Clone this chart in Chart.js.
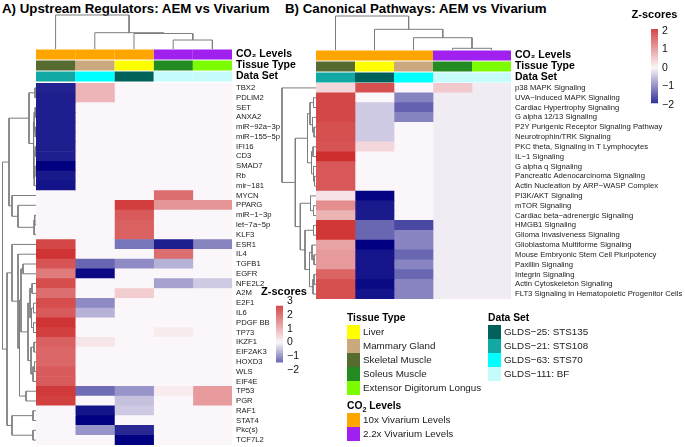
<!DOCTYPE html>
<html>
<head>
<meta charset="utf-8">
<script src="https://cdn.jsdelivr.net/npm/chart.js@4.4.1/dist/chart.umd.min.js"></script>
<style>
    body { margin: 0; width: 685px; height: 447px; position: relative; background: #fff; overflow: hidden;
           font-family: "Liberation Sans", Arial, sans-serif; color: #000; }
    canvas { position: absolute; }
    .title { position: absolute; font-weight: bold; font-size: 13.3px; line-height: 15px; white-space: nowrap; }
    .lgHead { position: absolute; font-weight: bold; font-size: 10.3px; line-height: 14px; white-space: nowrap; }
    .lgItem { position: absolute; font-size: 9.8px; line-height: 14px; white-space: nowrap; color: #222; }
    .sw { position: absolute; width: 13px; height: 14px; }
</style>
</head>
<body>
<div class="title" style="left:2px;top:1px">A) Upstream Regulators: AEM vs Vivarium</div>
<div class="title" style="left:285px;top:1px">B) Canonical Pathways: AEM vs Vivarium</div>
<script>
// annotation categories
const co2Levels = ['10x Vivarium Levels', '2.2x Vivarium Levels'];
const tissueTypes = ['Liver', 'Mammary Gland', 'Skeletal Muscle', 'Soleus Muscle', 'Extensor Digitorum Longus'];
const dataSets = ['GLDS\u221225: STS135', 'GLDS\u221221: STS108', 'GLDS\u221263: STS70', 'GLDS\u2212111: BF'];
const co2Colors = ['#FFA500', '#A020F0'];
const tissueColors = ['#FFFF00', '#CBA97E', '#556B2F', '#228B22', '#7CFC00'];
const dataSetColors = ['#00605A', '#12A9A4', '#00FFFF', '#C6FBFB'];

// column annotations (index into the lists above)
const colCo2A = [0, 0, 0, 1, 1];
const colTissueA = [2, 1, 0, 3, 4];
const colDataSetA = [1, 2, 0, 3, 3];
const colCo2B = [0, 0, 0, 1, 1];
const colTissueB = [2, 0, 1, 3, 4];
const colDataSetB = [1, 0, 2, 3, 3];

// A) upstream regulators
const regulators = ['TBX2', 'PDLIM2', 'SET', 'ANXA2', 'miR\u221292a\u22123p', 'miR\u2212155\u22125p', 'IFI16', 'CD3', 'SMAD7', 'Rb',
    'mir\u2212181', 'MYCN', 'PPARG', 'miR\u22121\u22123p', 'let\u22127a\u22125p', 'KLF3', 'ESR1', 'IL4', 'TGFB1', 'EGFR', 'NFE2L2',
    'A2M', 'E2F1', 'IL6', 'PDGF BB', 'TP73', 'IKZF1', 'EIF2AK3', 'HOXD3', 'WLS', 'EIF4E', 'TP53', 'PGR', 'RAF1', 'STAT4',
    'Pkc(s)', 'TCF7L2'];
const regSkeletal = [-2.15, -2.2, -2.2, -2.2, -2.2, -2.2, -2.2, -2.2, -2.5, -2.25, -2.3, 0, 0, 0, 0, 0, 2.7, 3.0, 2.5, 1.9, 2.6,
    2.1, 2.6, 2.4, 3.0, 2.8, 2.3, 2.2, 2.2, 2.4, 2.4, 2.9, 2.8, 0, 0, 0, 0];
const regMammary = [1.0, 1.0, 0, 0, 0, 0, 0, 0, 0, 0, 0, 0, 0, 0, 0, 0, 0, 0, -1.45, -2.4, 0,
    0, -1.1, -0.7, 0, 0, 0.25, 0, 0, 0, 0, -1.4, 0, -2.3, -2.5, -1.0, 0];
const regLiver = [0, 0, 0, 0, 0, 0, 0, 0, 0, 0, 0, 0, 2.85, 2.4, 2.3, 2.3, -1.3, 0, -1.1, 0, 0,
    0.65, 0, 0, 0, 0, 0, 0, 0, 0, 0, -1.0, -0.55, -0.45, 0, -2.1, -2.5];
const regSoleus = [0, 0, 0, 0, 0, 0, 0, 0, 0, 0, 0, 2.1, 1.5, 0, 0, 0, -2.2, 2.1, -0.7, 0, -0.85,
    0, 0, 0, 0, 0.15, 0, 0, 0, 0, 0, 0.15, 0, 0, 0, 0, 0];
const regEDL = [0, 0, 0, 0, 0, 0, 0, 0, 0, 0, 0, 0, 1.5, 0, 0, 0, -1.15, 0, 0, 0, -0.45,
    0, 0, 0, 0, 0, 0, 0, 0, 0, 0, 1.4, 1.4, 0, 0, 0, 0];

// B) canonical pathways
const pathways = ['p38 MAPK Signaling', 'UVA\u2212Induced MAPK Signaling', 'Cardiac Hypertrophy Signaling',
    'G alpha 12/13 Signaling', 'P2Y Purigenic Receptor Signaling Pathway', 'Neurotrophin/TRK Signaling',
    'PKC theta, Signaling in T Lymphocytes', 'IL\u22121 Signaling', 'G alpha q Signaling',
    'Pancreatic Adenocarcinoma Signaling', 'Actin Nucleation by ARP\u2212WASP Complex', 'PI3K/AKT Signaling',
    'mTOR Signaling', 'Cardiac beta\u2212adrenergic Signaling', 'HMGB1 Signaling', 'Glioma Invasiveness Signaling',
    'Glioblastoma Multiforme Signaling', 'Mouse Embryonic Stem Cell Pluripotency', 'Paxillin Signaling',
    'Integrin Signaling', 'Actin Cytoskeleton Signaling', 'FLT3 Signaling in Hematopoietic Progenitor Cells'];
const pathSkeletal = [0.37, 2.1, 2.1, 2.1, 2.0, 2.0, 1.95, 2.4, 1.9, 1.9, 1.9, 0.25, 1.25, 0.8, 2.3, 2.3, 1.0, 1.1, 1.1, 1.75, 2.0, 2.0];
const pathLiver = [2.0, 0, -0.42, -0.42, -0.42, -0.42, 0.37, 0, 0, 0, 0, -2.35, -2.15, -2.15, -1.4, -1.4, -2.4, -2.2, -2.2, -2.2, -2.3, -2.2];
const pathMammary = [0, -1.12, -1.45, -1.12, 0, 0, 0, 0, 0, 0, 0, 0, 0, 0, -1.7, -1.1, -1.1, -1.4, -1.1, -1.4, -1.1, -1.1];
const pathSoleus = [0.55, -0.1, -0.1, -0.1, -0.1, -0.1, -0.1, -0.1, -0.1, -0.1, -0.1, -0.1, -0.1, -0.1, -0.1, -0.1, -0.1, -0.1, -0.1, -0.1, -0.1, -0.1];
const pathEDL = [-0.1, -0.1, -0.1, -0.1, -0.1, -0.1, -0.1, -0.1, -0.1, -0.1, -0.1, -0.1, -0.1, -0.1, -0.1, -0.1, -0.1, -0.1, -0.1, -0.1, -0.1, -0.1];

// colour scale limits
const zRangeA = [-2.5, 3.2];
const zRangeB = [-2.4, 2.5];

// dendrograms: [mergeHeight, left, right], leaves are row / column indices
const rowTreeA = [33.5,
    [27,
        [7, [1, 0, 1], [2.6, [1.8, [0.8, 2, 3], [0.8, 4, 5]], [2.2, [0.8, 6, 7], [1.8, [1.2, 8, 9], 10]]]],
        [24, 11, [18, 12, [2, [1.3, 13, 14], 15]]]],
    [29,
        [24, 16, [18, 17, [16.5,
            [15, [13, 18, 19], [8, [6, [4, 20, 21], [4.5, [2.5, 22, 23], [2.5, 24, 25]]], [5, [2, 26, 27], [3, [1.5, 28, 29], 30]]]],
            [10, 31, 32]]]],
        [24, [3, 33, 34], [3, 35, 36]]]];
const rowTreeB = [34, 0,
    [20.7,
        [8.5, [6, [2.5, 1, 2], [3.5, 3, [2, 4, 5]]], [4.5, [3, 6, 7], [2.5, 8, [1.5, 9, 10]]]],
        [15.7, [5.5, 11, [2.5, 12, 13]], [11, [2.5, 14, 15], [6.5, [4, 16, [2, 17, 18]], [3, [2, 19, 20], 21]]]]]];
const colTreeA = [34, 0, [16.3, 1, [15.5, 2, [9, 3, 4]]]];
const colTreeB = [34, 0, [20.7, 1, [12.3, 2, [1.7, 3, 4]]]];

Chart.defaults.font.family = '"Liberation Sans", Arial, sans-serif';
Chart.defaults.color = '#222';

const NAVY = [0, 0, 128], MID = [251, 246, 249], RED = [205, 38, 38];

function mix(c1, c2, t) {
    return 'rgb(' + c1.map((v, i) => Math.round(v + (c2[i] - v) * t)).join(',') + ')';
}
function heatColor(v, range) {
    if (v < 0) return mix(MID, NAVY, Math.min(v / range[0], 1));
    return mix(MID, RED, Math.min(v / range[1], 1));
}
function rgb(c) { return 'rgb(' + c.join(',') + ')'; }

function makeCanvas(left, top, w, h) {
    const c = document.createElement('canvas');
    c.width = w; c.height = h;
    c.style.left = left + 'px'; c.style.top = top + 'px';
    document.body.appendChild(c);
    return c;
}

const baseOptions = {
    responsive: false, animation: false, events: [],
    layout: { padding: 0 },
    plugins: { legend: { display: false }, tooltip: { enabled: false } }
};

// horizontal stacked bars, one dataset per column, one category per row
function gridChart(canvas, labels, colours, barPct, axisWidth, font, labelColor) {
    const datasets = colours.map(col => ({
        data: col.map(() => 1),
        backgroundColor: col,
        barPercentage: barPct,
        categoryPercentage: 1,
        borderWidth: 0
    }));
    return new Chart(canvas, {
        type: 'bar',
        data: { labels: labels, datasets: datasets },
        options: Object.assign({}, baseOptions, {
            indexAxis: 'y',
            scales: {
                x: { display: false, stacked: true, min: 0, max: colours.length },
                y: {
                    stacked: true, position: 'right',
                    grid: { display: false, drawTicks: false }, border: { display: false },
                    ticks: { autoSkip: false, padding: 4, font: font, color: labelColor },
                    afterFit: function (s) { s.width = axisWidth; s.paddingTop = 0; s.paddingBottom = 0; }
                }
            }
        })
    });
}

function heatmap(canvas, labels, columns, range, axisWidth) {
    const colours = columns.map(col => col.map(v => heatColor(v, range)));
    gridChart(canvas, labels, colours, 1, axisWidth, { size: 7.7 }, '#1a1a1a');
}

function annotation(canvas, co2, tissue, dataSet, axisWidth) {
    const colours = co2.map((c, i) => [co2Colors[c], tissueColors[tissue[i]], dataSetColors[dataSet[i]]]);
    gridChart(canvas, ['CO\u2082 Levels', 'Tissue Type', 'Data Set'], colours, 0.9, axisWidth,
        { size: 10.5, weight: 'bold' }, '#000');
}

function dendroSegments(node, out) {
    if (typeof node === 'number') return { pos: node, h: 0 };
    const a = dendroSegments(node[1], out);
    const b = dendroSegments(node[2], out);
    const h = node[0];
    out.push([{ p: a.pos, h: a.h }, { p: a.pos, h: h }, { p: b.pos, h: h }, { p: b.pos, h: b.h }]);
    return { pos: (a.pos + b.pos) / 2, h: h };
}

function dendrogram(canvas, tree, sideways, nLeaves, hMax) {
    const segs = [];
    dendroSegments(tree, segs);
    const datasets = segs.map(s => ({
        data: s.map(pt => sideways ? { x: pt.h, y: pt.p } : { x: pt.p, y: pt.h }),
        showLine: true, borderColor: '#7d7d7d', borderWidth: 1, pointRadius: 0, fill: false
    }));
    const leafAxis = { type: 'linear', display: false, min: -0.5, max: nLeaves - 0.5 };
    const heightAxis = { type: 'linear', display: false, min: 0, max: hMax };
    new Chart(canvas, {
        type: 'scatter',
        data: { datasets: datasets },
        options: Object.assign({}, baseOptions, {
            scales: sideways
                ? { x: Object.assign({ reverse: true }, heightAxis), y: Object.assign({ reverse: true }, leafAxis) }
                : { x: leafAxis, y: heightAxis }
        })
    });
}

// colour key: a left spacer axis keeps the title centred on the whole canvas
function colourBar(canvas, range, padLeft, axisWidth, titlePad) {
    const lo = range[0], hi = range[1];
    new Chart(canvas, {
        type: 'bar',
        data: {
            labels: [''],
            datasets: [{
                data: [[lo, hi]],
                barPercentage: 1, categoryPercentage: 1, borderWidth: 0,
                backgroundColor: function (ctx) {
                    const chart = ctx.chart;
                    const ys = chart.scales.y;
                    if (!chart.chartArea || !ys) return rgb(MID);
                    const g = chart.ctx.createLinearGradient(0, ys.getPixelForValue(lo), 0, ys.getPixelForValue(hi));
                    g.addColorStop(0, rgb(NAVY));
                    g.addColorStop(-lo / (hi - lo), rgb(MID));
                    g.addColorStop(1, rgb(RED));
                    return g;
                }
            }]
        },
        options: Object.assign({}, baseOptions, {
            plugins: {
                legend: { display: false }, tooltip: { enabled: false },
                title: { display: true, text: 'Z-scores', color: '#000', font: { size: 11, weight: 'bold' }, padding: titlePad }
            },
            scales: {
                x: { display: false },
                spacer: {
                    type: 'linear', position: 'left', display: true,
                    grid: { display: false, drawTicks: false }, border: { display: false }, ticks: { display: false },
                    afterFit: function (s) { s.width = padLeft; s.paddingTop = 0; s.paddingBottom = 0; }
                },
                y: {
                    min: lo, max: hi, position: 'right',
                    grid: { display: false, drawTicks: false }, border: { display: false },
                    ticks: {
                        stepSize: 1, includeBounds: false, autoSkip: false, padding: 4, color: '#111', font: { size: 10.5 },
                        callback: v => v < 0 ? '\u2212' + Math.abs(v) : String(v)
                    },
                    afterFit: function (s) { s.width = axisWidth; s.paddingTop = 0; s.paddingBottom = 0; }
                }
            }
        })
    });
}

// panel A
dendrogram(makeCanvas(36, 12, 196, 37), colTreeA, false, 5, 37);
annotation(makeCanvas(36, 49, 296, 33), colCo2A, colTissueA, colDataSetA, 100);
dendrogram(makeCanvas(0, 83, 36, 362), rowTreeA, true, regulators.length, 36);
heatmap(makeCanvas(36, 83, 246, 362), regulators, [regSkeletal, regMammary, regLiver, regSoleus, regEDL], zRangeA, 50);
colourBar(makeCanvas(258, 283, 52, 94), zRangeA, 18, 27, { top: 2, bottom: 0 });

// panel B
dendrogram(makeCanvas(316, 12, 195, 38), colTreeB, false, 5, 38);
annotation(makeCanvas(316, 50, 295, 33), colCo2B, colTissueB, colDataSetB, 100);
dendrogram(makeCanvas(280, 83, 36, 216), rowTreeB, true, pathways.length, 36);
heatmap(makeCanvas(316, 83, 369, 216), pathways, [pathSkeletal, pathLiver, pathMammary, pathSoleus, pathEDL], zRangeB, 174);
colourBar(makeCanvas(628, 5, 53, 107), zRangeB, 23, 23, { top: 3, bottom: 0.6 });

// annotation legend
function legendBlock(x, y, heading, names, colours, order) {
    const h = document.createElement('div');
    h.className = 'lgHead'; h.style.left = x + 'px'; h.style.top = (y - 7) + 'px';
    h.innerHTML = heading;
    document.body.appendChild(h);
    order.forEach((k, i) => {
        const cy = y + 14 * (i + 1);
        const sw = document.createElement('div');
        sw.className = 'sw'; sw.style.left = x + 'px'; sw.style.top = (cy - 7) + 'px';
        sw.style.background = colours[k];
        document.body.appendChild(sw);
        const t = document.createElement('div');
        t.className = 'lgItem'; t.style.left = (x + 16) + 'px'; t.style.top = (cy - 7) + 'px';
        t.textContent = names[k];
        document.body.appendChild(t);
    });
}
legendBlock(347, 318, 'Tissue Type', tissueTypes, tissueColors, [0, 1, 2, 3, 4]);
legendBlock(347, 406, 'CO<sub style="font-size:7px">2</sub> Levels', co2Levels, co2Colors, [0, 1]);
legendBlock(488, 318, 'Data Set', dataSets, dataSetColors, [0, 1, 2, 3]);
</script>
</body>
</html>
